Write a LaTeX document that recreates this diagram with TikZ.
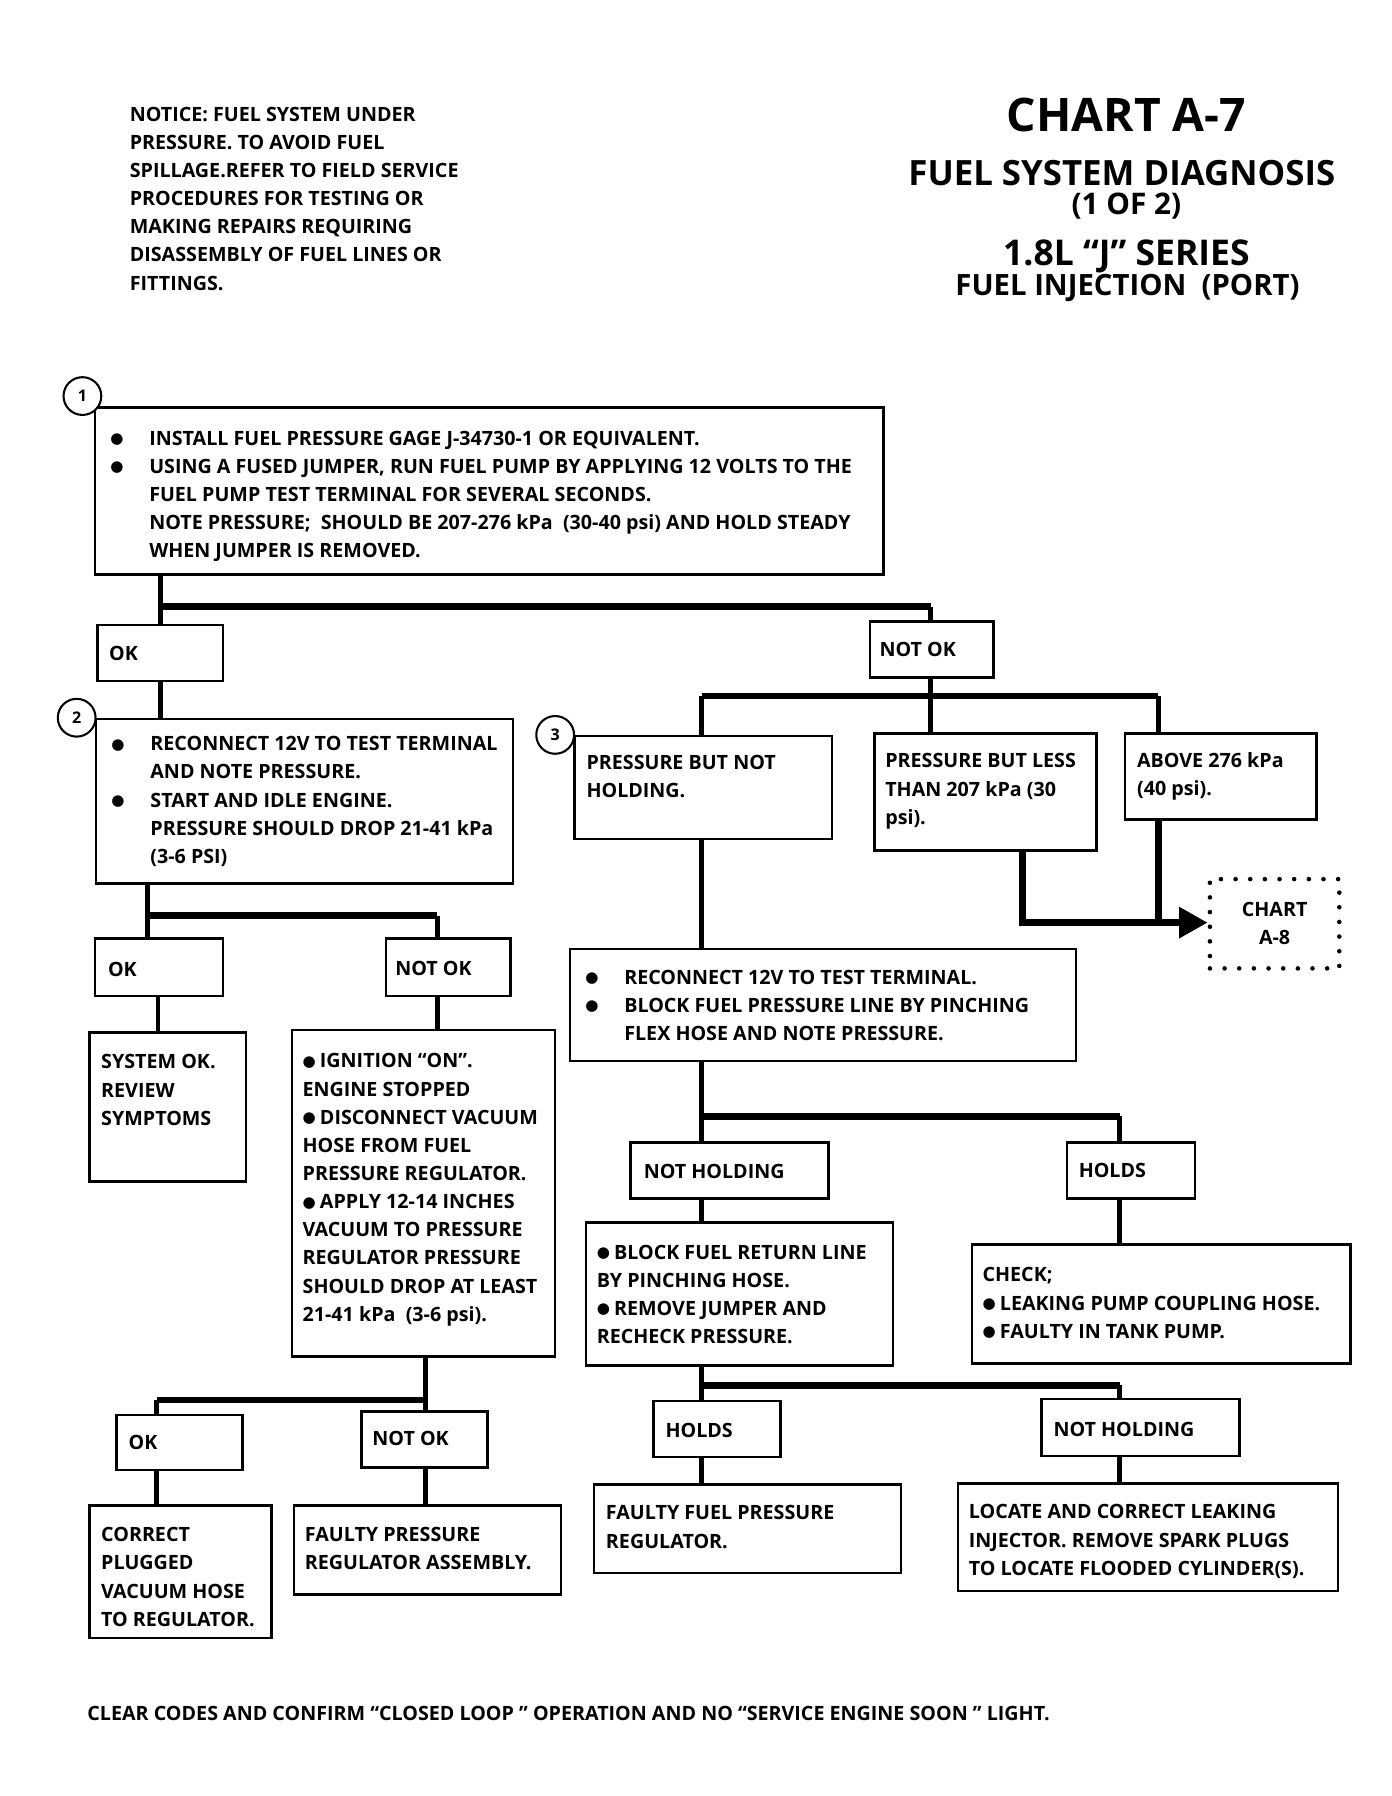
\documentclass[tikz,border=0pt]{standalone}
\usepackage{fontspec}
\setmainfont{Open Sans}
\newfontfamily\djv{DejaVu Sans}
\usetikzlibrary{fit,arrows.meta}
\newcommand\bdot{{\djv\fontsize{6.6}{6.6}\selectfont\raisebox{0.7pt}{●}}}
\newcommand\bul{\makebox[18pt][l]{\hspace*{1pt}\bdot}}
\newcommand\ind{\hspace*{18pt}}
\newcommand\ibul{\bdot\hspace{1.8pt}}
\begin{document}
\begin{tikzpicture}[x=0.5pt,y=-0.5pt,
  box/.style={draw, line width=1.1pt, inner sep=0pt},
  dbox/.style={draw, line width=2pt, dash pattern=on 0pt off 6.4pt, line cap=round, inner sep=0pt},
  txt/.style={anchor=north west, inner sep=0pt, align=left, font=\bfseries\fontsize{8.6}{12.3}\selectfont},
  vl/.style={line width=2.1pt},
  hl/.style={line width=3pt},
  al/.style={line width=3pt},
  num/.style={circle, draw, line width=0.9pt, minimum size=16.5pt, inner sep=0pt, fill=white, font=\bfseries\fontsize{7}{8}\selectfont},
  ttl/.style={anchor=base, inner sep=0pt, font=\bfseries\fontsize{#1}{#1}\selectfont}]
\fill[white] (0,0) rectangle (1216,1569);
\path[use as bounding box] (0,0) rectangle (1216,1569);

% notice and title
\node[txt] (notice) at (113,93) {NOTICE: FUEL SYSTEM UNDER\\PRESSURE. TO AVOID FUEL\\SPILLAGE.REFER TO FIELD SERVICE\\PROCEDURES FOR TESTING OR\\MAKING REPAIRS REQUIRING\\DISASSEMBLY OF FUEL LINES OR\\FITTINGS.};
\node[ttl=20.2] (t1) at (984,115) {CHART A-7};
\node[ttl=15.2] (t2) at (980,162) {FUEL SYSTEM DIAGNOSIS};
\node[ttl=13] (t3) at (984,187) {(1 OF 2)};
\node[ttl=15.5] (t4) at (984,232) {1.8L “J” SERIES};
\node[ttl=12.8] (t5) at (985,258) {FUEL INJECTION\ \ (PORT)};

% ---------- boxes ----------
\node[box, fit={(83,356) (772,502)}] (b1) {};
\node[txt] (b1t) at (94,376) {\bul INSTALL FUEL PRESSURE GAGE J-34730-1 OR EQUIVALENT.\\
\bul USING A FUSED JUMPER, RUN FUEL PUMP BY APPLYING 12 VOLTS TO THE\\
\ind FUEL PUMP TEST TERMINAL FOR SEVERAL SECONDS.\\
\ind NOTE PRESSURE;\ \ SHOULD BE 207-276 kPa\ \ (30-40 psi) AND HOLD STEADY\\
\ind WHEN JUMPER IS REMOVED.};
\node[num] (c1) at (72,346) {1};

\node[box, fit={(85,546) (195,595)}] (ok1) {};
\node[txt] (ok1t) at (95,564) {OK};
\node[box, fit={(760,543) (868,592)}] (nok1) {};
\node[txt] (nok1t) at (768,561) {NOT OK};

\node[box, fit={(84,628) (448,772)}] (b2) {};
\node[txt] (b2t) at (95,643) {\bul RECONNECT 12V TO TEST TERMINAL\\
\ind AND NOTE PRESSURE.\\
\bul START AND IDLE ENGINE.\\
\ind PRESSURE SHOULD DROP 21-41 kPa\\
\ind (3-6 PSI)};
\node[num] (c2) at (67,627) {2};

\node[box, fit={(83,820) (195,870)}] (ok2) {};
\node[txt] (ok2t) at (94,840) {OK};
\node[box, fit={(337,820) (446,870)}] (nok2) {};
\node[txt] (nok2t) at (345,839) {NOT OK};

\node[box, fit={(78,902) (215,1032)}] (sys) {};
\node[txt] (syst) at (88,921) {SYSTEM OK.\\REVIEW\\SYMPTOMS};
\node[box, fit={(255,900) (485,1185)}] (ign) {};
\node[txt] (ignt) at (264,920) {\ibul IGNITION “ON”.\\ENGINE STOPPED\\\ibul DISCONNECT VACUUM\\HOSE FROM FUEL\\PRESSURE REGULATOR.\\\ibul APPLY 12-14 INCHES\\VACUUM TO PRESSURE\\REGULATOR PRESSURE\\SHOULD DROP AT LEAST\\21-41 kPa\ \ (3-6 psi).};

\node[box, fit={(102,1236) (212,1284)}] (ok3) {};
\node[txt] (ok3t) at (112,1253) {OK};
\node[box, fit={(316,1233) (426,1282)}] (nok3) {};
\node[txt] (nok3t) at (325,1250) {NOT OK};
\node[box, fit={(78,1315) (237,1431)}] (cor) {};
\node[txt] (cort) at (88,1334) {CORRECT\\PLUGGED\\VACUUM HOSE\\TO REGULATOR.};
\node[box, fit={(257,1315) (490,1393)}] (fpr) {};
\node[txt] (fprt) at (266,1334) {FAULTY PRESSURE\\REGULATOR ASSEMBLY.};

% right branch
\node[box, fit={(502,643) (727,733)}] (pbn) {};
\node[txt] (pbnt) at (512,659) {PRESSURE BUT NOT\\HOLDING.};
\node[num] (c3) at (485,642) {3};
\node[box, fit={(764,641) (958,743)}] (pbl) {};
\node[txt] (pblt) at (773,658) {PRESSURE BUT LESS\\THAN 207 kPa (30\\psi).};
\node[box, fit={(983,641) (1150,716)}] (abv) {};
\node[txt] (abvt) at (993,657) {ABOVE 276 kPa\\(40 psi).};
\node[dbox, fit={(1057,768) (1170,846)}] (ca8) {};
\node[align=center, inner sep=0pt, font=\bfseries\fontsize{8.6}{12.3}\selectfont] (ca8t) at (ca8.center) {CHART\\A-8};

\node[box, fit={(498,829) (940,927)}] (rb) {};
\node[txt] (rbt) at (509,847) {\bul RECONNECT 12V TO TEST TERMINAL.\\
\bul BLOCK FUEL PRESSURE LINE BY PINCHING\\
\ind FLEX HOSE AND NOTE PRESSURE.};

\node[box, fit={(551,998) (724,1047)}] (nh1) {};
\node[txt] (nh1t) at (562,1017) {NOT HOLDING};
\node[box, fit={(932,998) (1044,1047)}] (ho1) {};
\node[txt] (ho1t) at (942,1016) {HOLDS};
\node[box, fit={(512,1068) (780,1193)}] (br) {};
\node[txt] (brt) at (521,1087) {\ibul BLOCK FUEL RETURN LINE\\BY PINCHING HOSE.\\\ibul REMOVE JUMPER AND\\RECHECK PRESSURE.};
\node[box, fit={(849,1087) (1180,1191)}] (chk) {};
\node[txt] (chkt) at (858,1107) {CHECK;\\\ibul LEAKING PUMP COUPLING HOSE.\\\ibul FAULTY IN TANK PUMP.};

\node[box, fit={(571,1224) (682,1273)}] (ho2) {};
\node[txt] (ho2t) at (581,1243) {HOLDS};
\node[box, fit={(910,1222) (1083,1272)}] (nh2) {};
\node[txt] (nh2t) at (920,1242) {NOT HOLDING};
\node[box, fit={(519,1297) (787,1374)}] (ffp) {};
\node[txt] (ffpt) at (529,1315) {FAULTY FUEL PRESSURE\\REGULATOR.};
\node[box, fit={(837,1296) (1169,1390)}] (loc) {};
\node[txt] (loct) at (846,1314) {LOCATE AND CORRECT LEAKING\\INJECTOR. REMOVE SPARK PLUGS\\TO LOCATE FLOODED CYLINDER(S).};

\node[txt] (foot) at (76,1490) {CLEAR CODES AND CONFIRM “CLOSED LOOP ” OPERATION AND NO “SERVICE ENGINE SOON ” LIGHT.};

% ---------- connectors ----------
\coordinate (j1) at (140,530);
\coordinate (j1r) at (813,530);
\draw[vl] (j1 |- b1.south) -- (j1) -- (j1 |- ok1.north);
\draw[hl] (j1) -- (j1r);
\draw[vl] (j1r) -- (j1r |- nok1.north);
\draw[vl] (j1 |- ok1.south) -- (j1 |- b2.north);

\coordinate (j2) at (129,800);
\coordinate (j2r) at (382,800);
\draw[vl] (j2 |- b2.south) -- (j2) -- (j2 |- ok2.north);
\draw[hl] (j2) -- (j2r);
\draw[vl] (j2r) -- (j2r |- nok2.north);
\coordinate (k2) at (138,870);
\draw[vl] (k2 |- ok2.south) -- (k2 |- sys.north);
\draw[vl] (j2r |- nok2.south) -- (j2r |- ign.north);

\coordinate (j3) at (137,1223);
\coordinate (j3r) at (372,1223);
\draw[vl] (j3r |- ign.south) -- (j3r) -- (j3r |- nok3.north);
\draw[hl] (j3) -- (j3r);
\draw[vl] (j3) -- (j3 |- ok3.north);
\draw[vl] (j3 |- ok3.south) -- (j3 |- cor.north);
\draw[vl] (j3r |- nok3.south) -- (j3r |- fpr.north);

\coordinate (j4) at (813,608);
\coordinate (j4l) at (613,608);
\coordinate (j4r) at (1012,608);
\draw[vl] (j4 |- nok1.south) -- (j4) -- (j4 |- pbl.north);
\draw[hl] (j4l) -- (j4r);
\draw[vl] (j4l) -- (j4l |- pbn.north);
\draw[vl] (j4r) -- (j4r |- abv.north);

\coordinate (a1) at (893,806);
\coordinate (a2) at (1012,806);
\draw[al] (a2 |- abv.south) -- (a2);
\draw[al, -{Triangle[length=12.5pt,width=13pt]}] (a1 |- pbl.south) -- (a1) -- (ca8.west |- a1);

\draw[vl] (j4l |- pbn.south) -- (j4l |- rb.north);
\coordinate (j5) at (613,975);
\coordinate (j5r) at (978,975);
\draw[vl] (j5 |- rb.south) -- (j5) -- (j5 |- nh1.north);
\draw[hl] (j5) -- (j5r);
\draw[vl] (j5r) -- (j5r |- ho1.north);
\draw[vl] (j5 |- nh1.south) -- (j5 |- br.north);
\draw[vl] (j5r |- ho1.south) -- (j5r |- chk.north);

\coordinate (j6) at (613,1210);
\coordinate (j6r) at (978,1210);
\draw[vl] (j6 |- br.south) -- (j6) -- (j6 |- ho2.north);
\draw[hl] (j6) -- (j6r);
\draw[vl] (j6r) -- (j6r |- nh2.north);
\draw[vl] (j6 |- ho2.south) -- (j6 |- ffp.north);
\draw[vl] (j6r |- nh2.south) -- (j6r |- loc.north);
\end{tikzpicture}
\end{document}
